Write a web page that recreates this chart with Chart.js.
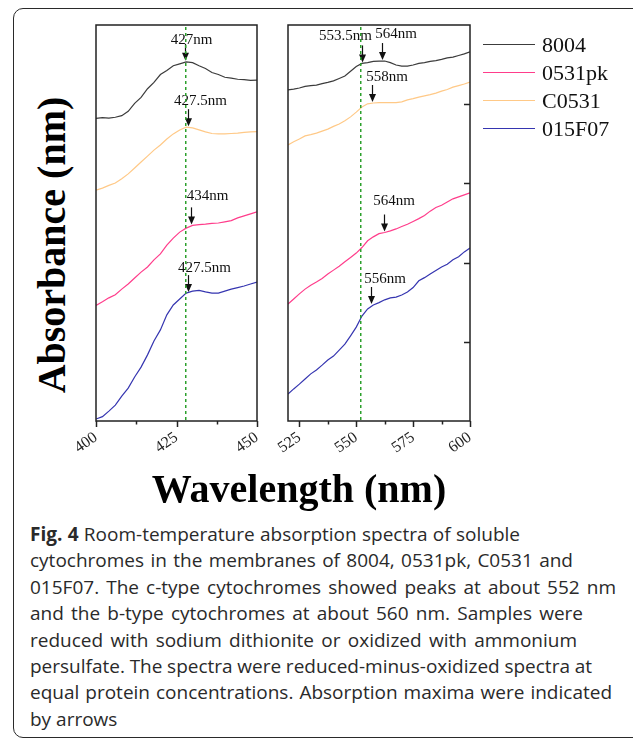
<!DOCTYPE html>
<html>
<head>
<meta charset="utf-8">
<script src="https://cdn.jsdelivr.net/npm/chart.js@4.4.1/dist/chart.umd.min.js"></script>
<style>
body{margin:0;width:633px;height:738px;overflow:hidden;background:#fff;position:relative;}
.frame{position:absolute;left:12.5px;top:8px;width:700px;height:730px;border:1.5px solid #2a2a2a;border-radius:10px;box-sizing:border-box;}
.box{position:absolute;}
#ytitle{position:absolute;left:-107px;top:220px;width:320px;height:50px;line-height:50px;text-align:center;font:bold 40px "Liberation Serif";transform:rotate(-90deg);color:#000;white-space:nowrap;}
#xtitle{position:absolute;left:99px;top:465px;width:400px;height:50px;line-height:50px;text-align:center;font:bold 40px "Liberation Serif";color:#000;white-space:nowrap;}
.lg{position:absolute;left:483px;height:24px;width:150px;}
.lg i{position:absolute;left:0;top:12px;width:52px;height:1px;}
.lg span{position:absolute;left:59px;top:0;line-height:24px;font:22px "Liberation Serif";color:#111;white-space:nowrap;}
#caption{position:absolute;left:30px;top:521px;font:19px "Open Sans";line-height:26.4px;color:#2a2a2a;}
#caption div{white-space:nowrap;}
</style>
</head>
<body>
<div class="frame"></div>
<div id="ytitle">Absorbance (nm)</div>
<div class="box" style="left:55px;top:15px;width:220px;height:460px"><canvas id="c1"></canvas></div>
<div class="box" style="left:260px;top:15px;width:225px;height:460px"><canvas id="c2"></canvas></div>
<div id="legend"></div>
<div id="xtitle">Wavelength (nm)</div>
<div id="caption"></div>
<script>
// strains and their line colours
const names = ['8004', '0531pk', 'C0531', '015F07'];
const colors = ['#3c3c3c', '#ff3d8b', '#ffc987', '#3535b0'];

// Soret region (left panel)
const wlLeft = [400,402,404,406,408,410,412,414,416,418,420,422,424,426,428,430,432,434,436,438,440,442,444,446,448,450];
const a8004Left = [0.764,0.766,0.765,0.767,0.771,0.782,0.802,0.817,0.839,0.855,0.875,0.885,0.897,0.902,0.907,0.905,0.897,0.890,0.880,0.875,0.868,0.866,0.863,0.862,0.860,0.861];
const a0531pkLeft = [0.292,0.301,0.311,0.319,0.333,0.346,0.361,0.376,0.389,0.407,0.422,0.444,0.462,0.477,0.487,0.494,0.496,0.497,0.499,0.500,0.503,0.506,0.513,0.518,0.523,0.528];
const aC0531Left = [0.583,0.588,0.595,0.601,0.612,0.624,0.639,0.654,0.669,0.684,0.697,0.712,0.725,0.735,0.742,0.740,0.735,0.730,0.726,0.725,0.725,0.726,0.727,0.729,0.730,0.731];
const a015F07Left = [0.005,0.011,0.025,0.040,0.063,0.083,0.111,0.136,0.167,0.202,0.230,0.268,0.293,0.308,0.323,0.328,0.330,0.326,0.323,0.323,0.328,0.333,0.337,0.341,0.346,0.351];

// alpha region (right panel)
const wlRight = [520,522.5,525,527.5,530,532.5,535,537.5,540,542.5,545,547.5,550,552.5,555,557.5,560,562.5,565,567.5,570,572.5,575,577.5,580,582.5,585,587.5,590,592.5,595,597.5,600];
const a8004Right = [0.836,0.838,0.841,0.845,0.847,0.848,0.852,0.855,0.859,0.865,0.871,0.883,0.895,0.903,0.905,0.908,0.909,0.909,0.905,0.899,0.896,0.896,0.899,0.903,0.905,0.908,0.910,0.913,0.917,0.919,0.923,0.927,0.932];
const a0531pkRight = [0.295,0.308,0.321,0.333,0.343,0.351,0.360,0.371,0.381,0.391,0.402,0.413,0.424,0.438,0.455,0.465,0.473,0.476,0.480,0.485,0.491,0.497,0.504,0.511,0.519,0.530,0.539,0.545,0.553,0.561,0.566,0.571,0.576];
const aC0531Right = [0.697,0.705,0.712,0.720,0.723,0.727,0.732,0.737,0.744,0.750,0.758,0.768,0.780,0.793,0.801,0.803,0.804,0.804,0.804,0.804,0.806,0.811,0.814,0.818,0.821,0.824,0.828,0.833,0.837,0.843,0.847,0.851,0.856];
const a015F07Right = [0.068,0.081,0.093,0.106,0.119,0.129,0.141,0.154,0.164,0.179,0.194,0.215,0.237,0.265,0.283,0.293,0.299,0.306,0.311,0.313,0.318,0.326,0.337,0.354,0.362,0.371,0.380,0.389,0.396,0.407,0.415,0.427,0.437];

// tick labels
const xTicksLeft = [400, 412.5, 425, 437.5, 450];
const xTicksRight = [525, 537.5, 550, 562.5, 575, 587.5, 600];
const yTicksRight = [0.2, 0.4, 0.6, 0.8];

// caption, one entry per printed line, with the x where each justified line ends
const captionLines = [
  '<b>Fig. 4</b> Room-temperature absorption spectra of soluble',
  'cytochromes in the membranes of 8004, 0531pk, C0531 and',
  '015F07. The c-type cytochromes showed peaks at about 552 nm',
  'and the b-type cytochromes at about 560 nm. Samples were',
  'reduced with sodium dithionite or oxidized with ammonium',
  'persulfate. The spectra were reduced-minus-oxidized spectra at',
  'equal protein concentrations. Absorption maxima were indicated',
  'by arrows'
];
const captionEnds = [520, 573, 616, 583, 577, 592, 612, null];

const cap = document.getElementById('caption');
captionLines.forEach((html, i) => {
  const row = document.createElement('div');
  const span = document.createElement('span');
  span.innerHTML = html;
  row.appendChild(span);
  cap.appendChild(row);
  if (captionEnds[i]) {
    const r = span.getBoundingClientRect();
    const gaps = (span.textContent.match(/ /g) || []).length;
    span.style.wordSpacing = ((captionEnds[i] - r.right) / gaps) + 'px';
  }
});

// legend
const legend = document.getElementById('legend');
names.forEach((n, i) => {
  const row = document.createElement('div');
  row.className = 'lg';
  row.style.top = Math.round(32 + i * 28.1) + 'px';
  row.innerHTML = '<i style="background:' + colors[i] + '"></i><span>' + n + '</span>';
  legend.appendChild(row);
});

// frame, ticks and arrows
const panelPlugin = {
  id: 'panel',
  afterDatasetsDraw(chart, args, opts) {
    const { ctx, chartArea: a, scales: { x, y } } = chart;
    ctx.save();
    ctx.strokeStyle = '#222';
    ctx.lineWidth = 1.5;
    ctx.strokeRect(a.left, a.top, a.right - a.left, a.bottom - a.top);
    x.ticks.forEach(t => {
      const px = Math.round(x.getPixelForValue(t.value)) + 0.5;
      const len = t.value % 25 === 0 ? 6 : 3.5;
      ctx.beginPath(); ctx.moveTo(px, a.bottom); ctx.lineTo(px, a.bottom + len); ctx.stroke();
    });
    (opts.rightTicks || []).forEach(v => {
      const py = Math.round(y.getPixelForValue(v)) + 0.5;
      ctx.beginPath(); ctx.moveTo(a.right, py); ctx.lineTo(a.right - 6, py); ctx.stroke();
    });

    ctx.fillStyle = '#111';
    ctx.strokeStyle = '#111';
    ctx.lineWidth = 1.2;
    ctx.font = '15px "Liberation Serif"';
    ctx.textAlign = 'center';
    ctx.textBaseline = 'middle';
    opts.notes.forEach(n => {
      const pts = chart.data.datasets[n.series].data;
      let best = pts[0];
      pts.forEach(p => { if (Math.abs(p.x - n.at) < Math.abs(best.x - n.at)) best = p; });
      const px = Math.round(x.getPixelForValue(n.at)) + 0.5;
      const tip = y.getPixelForValue(best.y) - 1;
      ctx.beginPath(); ctx.moveTo(px, tip - 17); ctx.lineTo(px, tip - 6); ctx.stroke();
      ctx.beginPath(); ctx.moveTo(px - 3.5, tip - 8); ctx.lineTo(px + 3.5, tip - 8); ctx.lineTo(px, tip); ctx.closePath(); ctx.fill();
      ctx.fillText(n.label, px + n.dx, tip - n.dy);
    });
    ctx.restore();
  },
  // green dashed marker drawn last, on top of everything
  afterDraw(chart, args, opts) {
    const { ctx, chartArea: a, scales: { x } } = chart;
    ctx.save();
    ctx.fillStyle = '#2ca02c';
    const dx = Math.round(x.getPixelForValue(opts.dashAt)) - 1;
    for (let yy = a.top + 2; yy < a.bottom; yy += 6) ctx.fillRect(dx, yy, 1.5, 3);
    ctx.restore();
  }
};

function makePanel(id, wl, series, xTicks, xMin, xMax, pad, panelOpts) {
  return new Chart(document.getElementById(id), {
    type: 'line',
    data: {
      datasets: series.map((s, i) => ({
        label: names[i],
        data: wl.map((w, k) => ({ x: w, y: s[k] })),
        borderColor: colors[i],
        borderWidth: 1.2,
        pointRadius: 0,
        tension: 0
      }))
    },
    options: {
      responsive: true,
      maintainAspectRatio: false,
      animation: false,
      devicePixelRatio: 1,
      events: [],
      layout: { padding: pad },
      plugins: { legend: { display: false }, tooltip: { enabled: false }, panel: panelOpts },
      scales: {
        x: {
          type: 'linear',
          min: xMin,
          max: xMax,
          afterBuildTicks: s => { s.ticks = xTicks.map(v => ({ value: v })); },
          afterFit: s => { s.height = 54; s.paddingLeft = 0; s.paddingRight = 0; },
          grid: { drawOnChartArea: false, drawTicks: true, tickLength: 6, tickColor: 'rgba(0,0,0,0)' },
          border: { display: false },
          ticks: {
            autoSkip: false, maxRotation: 35, minRotation: 35, padding: 1,
            color: '#222', font: { family: 'Liberation Serif', size: 16 },
            callback: v => (v % 25 === 0 ? String(v) : '')
          }
        },
        y: { display: false, min: 0, max: 1 }
      }
    },
    plugins: [panelPlugin]
  });
}

makePanel('c1', wlLeft, [a8004Left, a0531pkLeft, aC0531Left, a015F07Left], xTicksLeft, 400, 450,
  { left: 41, top: 10, right: 18, bottom: 0 },
  {
    dashAt: 428,
    notes: [
      { label: '427nm', series: 0, at: 427.5, dx: 6, dy: 21 },
      { label: '427.5nm', series: 2, at: 428.5, dx: 12, dy: 25 },
      { label: '434nm', series: 1, at: 429.5, dx: 16, dy: 28 },
      { label: '427.5nm', series: 3, at: 428.5, dx: 16, dy: 24 }
    ]
  });

makePanel('c2', wlRight, [a8004Right, a0531pkRight, aC0531Right, a015F07Right], xTicksRight, 520, 600,
  { left: 28, top: 10, right: 15, bottom: 0 },
  {
    dashAt: 552,
    rightTicks: yTicksRight,
    notes: [
      { label: '553.5nm', series: 0, at: 552.5, dx: -17, dy: 26 },
      { label: '564nm', series: 0, at: 561.3, dx: 13.5, dy: 26 },
      { label: '558nm', series: 2, at: 557, dx: 14.5, dy: 25 },
      { label: '564nm', series: 1, at: 562.2, dx: 9.5, dy: 30 },
      { label: '556nm', series: 3, at: 556.5, dx: 13.5, dy: 25 }
    ]
  });
</script>
</body>
</html>
